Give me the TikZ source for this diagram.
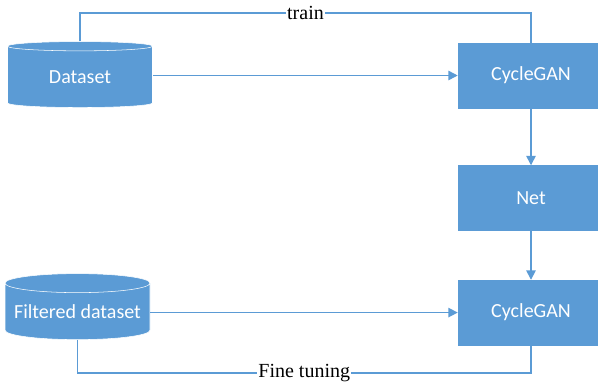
\documentclass[tikz,border=0pt]{standalone}
\usepackage{fontspec}
\setmainfont{Liberation Serif}
\newfontfamily\boxfont{Carlito}
\usetikzlibrary{arrows.meta, positioning, shapes.geometric}
\definecolor{officeblue}{HTML}{5B9BD5}

\begin{document}
\begin{tikzpicture}[
    x=0.75pt, y=-0.75pt,
    node distance=42.75pt,
    block/.style={draw=officeblue, fill=officeblue, text=white,
                  minimum width=109.5pt, minimum height=48.75pt,
                  inner sep=0pt, font=\boxfont\fontsize{15}{18}\selectfont},
    store/.style={cylinder, shape border rotate=90, aspect=0.15,
                  draw=white, thin, fill=officeblue, text=white,
                  minimum width=108.75pt, minimum height=49.5pt,
                  inner sep=0pt, font=\boxfont\fontsize{15}{18}\selectfont},
    link/.style={draw=officeblue, line width=1.1pt},
    tag/.style={fill=white, inner sep=1pt, font=\fontsize{15}{18}\selectfont},
    >={Triangle[length=7pt, width=7pt]}
  ]
  \useasboundingbox (0,0) rectangle (598,386);
  \coordinate (trainline) at (0,13);
  \coordinate (fineline)  at (0,373);

  \node[store] (data) at (80,77) {Dataset};
  \node[store] (filt) at (77.5,311.5) {Filtered dataset};

  \node[block] (cyc1) at (531,75.5) {CycleGAN};
  \node[block, below=of cyc1] (net) {Net};
  \node[block, below=36.75pt of net] (cyc2) {CycleGAN};

  \draw[link, ->] (data.east |- cyc1) -- (cyc1);
  \draw[link, ->] (cyc1) -- (net);
  \draw[link, ->] (net)  -- (cyc2);
  \draw[link, ->] (filt.east |- cyc2) -- (cyc2);

  \draw[link] (data.north) -- (data.north |- trainline) -| node[tag, pos=0.25] {train} (cyc1.north);
  \draw[link] (filt.south) -- (filt.south |- fineline) -| node[tag, pos=0.25] {Fine tuning} (cyc2.south);
\end{tikzpicture}
\end{document}
